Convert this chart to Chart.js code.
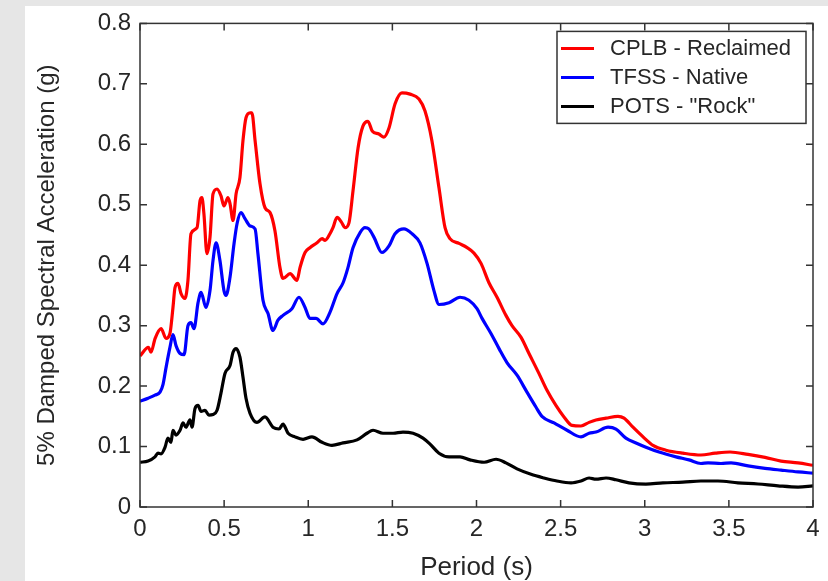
<!DOCTYPE html>
<html>
<head>
<meta charset="utf-8">
<script src="https://cdn.jsdelivr.net/npm/chart.js@4.4.1/dist/chart.umd.min.js"></script>
<style>
    html, body { margin: 0; padding: 0; background: #e6e6e6; overflow: hidden; }
    #panel { position: absolute; left: 25px; top: 6px; width: 803px; height: 575px; background: #fff; }
    #wrap { position: absolute; left: 0; top: 0; width: 828px; height: 581px; }
</style>
</head>
<body>
<div id="panel"></div>
<div id="wrap"><canvas id="spectraChart" width="828" height="581"></canvas></div>
<script>
// Periodo (s) y aceleración espectral (g) por estación
const periodCPLB = [0.0, 0.05, 0.065, 0.09, 0.125, 0.155, 0.178, 0.196, 0.208, 0.226, 0.244, 0.267, 0.285, 0.303, 0.339, 0.357, 0.368, 0.38, 0.398, 0.416, 0.434, 0.458, 0.481, 0.499, 0.523, 0.535, 0.553, 0.571, 0.594, 0.612, 0.63, 0.654, 0.665, 0.684, 0.713, 0.743, 0.773, 0.802, 0.832, 0.85, 0.892, 0.933, 0.951, 0.981, 1.01, 1.052, 1.082, 1.1, 1.129, 1.147, 1.171, 1.2, 1.218, 1.242, 1.266, 1.296, 1.325, 1.355, 1.38, 1.42, 1.45, 1.48, 1.516, 1.557, 1.605, 1.658, 1.694, 1.735, 1.777, 1.813, 1.842, 1.896, 1.944, 1.985, 2.027, 2.074, 2.122, 2.175, 2.211, 2.264, 2.312, 2.371, 2.419, 2.472, 2.52, 2.568, 2.621, 2.669, 2.71, 2.77, 2.841, 2.877, 2.93, 2.99, 3.049, 3.126, 3.227, 3.334, 3.418, 3.507, 3.614, 3.715, 3.81, 3.911, 4.0];
const saCPLB = [0.25, 0.264, 0.256, 0.279, 0.295, 0.279, 0.287, 0.33, 0.363, 0.37, 0.353, 0.345, 0.375, 0.452, 0.462, 0.507, 0.512, 0.485, 0.419, 0.446, 0.518, 0.526, 0.515, 0.498, 0.512, 0.502, 0.474, 0.518, 0.545, 0.606, 0.644, 0.652, 0.652, 0.606, 0.535, 0.495, 0.487, 0.457, 0.396, 0.378, 0.386, 0.375, 0.396, 0.421, 0.429, 0.437, 0.444, 0.441, 0.452, 0.462, 0.479, 0.47, 0.462, 0.47, 0.523, 0.594, 0.63, 0.638, 0.622, 0.617, 0.612, 0.627, 0.667, 0.685, 0.683, 0.675, 0.655, 0.606, 0.528, 0.462, 0.444, 0.436, 0.429, 0.42, 0.403, 0.371, 0.347, 0.317, 0.3, 0.281, 0.254, 0.221, 0.193, 0.168, 0.149, 0.135, 0.134, 0.14, 0.144, 0.147, 0.15, 0.147, 0.132, 0.116, 0.102, 0.094, 0.089, 0.086, 0.089, 0.091, 0.087, 0.082, 0.076, 0.073, 0.069];

const periodTFSS = [0.0, 0.048, 0.089, 0.119, 0.137, 0.155, 0.178, 0.196, 0.214, 0.238, 0.262, 0.285, 0.303, 0.321, 0.345, 0.363, 0.392, 0.416, 0.434, 0.452, 0.475, 0.499, 0.511, 0.535, 0.559, 0.577, 0.6, 0.624, 0.654, 0.684, 0.701, 0.731, 0.761, 0.79, 0.82, 0.85, 0.903, 0.945, 0.981, 1.01, 1.046, 1.088, 1.129, 1.171, 1.207, 1.236, 1.266, 1.308, 1.337, 1.36, 1.391, 1.438, 1.48, 1.516, 1.569, 1.617, 1.664, 1.706, 1.747, 1.777, 1.837, 1.902, 1.955, 2.003, 2.033, 2.086, 2.134, 2.181, 2.241, 2.3, 2.354, 2.389, 2.461, 2.538, 2.621, 2.669, 2.71, 2.782, 2.829, 2.888, 2.948, 3.007, 3.085, 3.186, 3.263, 3.334, 3.376, 3.453, 3.513, 3.614, 3.715, 3.81, 3.911, 4.0];
const saTFSS = [0.175, 0.18, 0.185, 0.19, 0.203, 0.231, 0.264, 0.285, 0.267, 0.254, 0.252, 0.3, 0.305, 0.295, 0.338, 0.355, 0.33, 0.358, 0.408, 0.437, 0.408, 0.358, 0.35, 0.38, 0.436, 0.469, 0.487, 0.477, 0.465, 0.46, 0.419, 0.342, 0.32, 0.292, 0.309, 0.317, 0.328, 0.347, 0.33, 0.312, 0.312, 0.303, 0.322, 0.353, 0.371, 0.396, 0.429, 0.454, 0.462, 0.46, 0.446, 0.421, 0.432, 0.452, 0.46, 0.452, 0.437, 0.403, 0.358, 0.335, 0.338, 0.347, 0.342, 0.328, 0.312, 0.287, 0.262, 0.239, 0.218, 0.19, 0.165, 0.15, 0.139, 0.127, 0.116, 0.122, 0.124, 0.132, 0.129, 0.114, 0.106, 0.099, 0.091, 0.083, 0.078, 0.072, 0.073, 0.072, 0.073, 0.068, 0.064, 0.061, 0.058, 0.056];

const periodPOTS = [0.0, 0.048, 0.089, 0.107, 0.125, 0.149, 0.166, 0.184, 0.196, 0.214, 0.238, 0.256, 0.273, 0.297, 0.309, 0.327, 0.345, 0.363, 0.386, 0.41, 0.434, 0.458, 0.481, 0.505, 0.535, 0.553, 0.571, 0.594, 0.612, 0.63, 0.654, 0.695, 0.743, 0.79, 0.826, 0.85, 0.88, 0.921, 0.969, 1.022, 1.082, 1.141, 1.207, 1.29, 1.349, 1.385, 1.444, 1.504, 1.563, 1.623, 1.682, 1.724, 1.777, 1.837, 1.902, 1.961, 2.045, 2.116, 2.175, 2.241, 2.324, 2.401, 2.478, 2.562, 2.621, 2.669, 2.71, 2.77, 2.829, 2.906, 3.007, 3.108, 3.227, 3.334, 3.435, 3.554, 3.673, 3.792, 3.911, 4.0];
const saPOTS = [0.074, 0.076, 0.083, 0.089, 0.088, 0.099, 0.114, 0.107, 0.127, 0.119, 0.127, 0.139, 0.132, 0.144, 0.132, 0.163, 0.168, 0.158, 0.16, 0.152, 0.153, 0.16, 0.188, 0.221, 0.234, 0.256, 0.262, 0.248, 0.215, 0.18, 0.155, 0.14, 0.149, 0.132, 0.129, 0.137, 0.122, 0.116, 0.112, 0.116, 0.107, 0.102, 0.106, 0.111, 0.122, 0.127, 0.122, 0.122, 0.124, 0.122, 0.114, 0.104, 0.089, 0.083, 0.083, 0.078, 0.074, 0.079, 0.073, 0.063, 0.054, 0.048, 0.043, 0.04, 0.043, 0.048, 0.046, 0.048, 0.045, 0.04, 0.038, 0.04, 0.041, 0.043, 0.043, 0.04, 0.038, 0.035, 0.033, 0.035];

const seriesLabels = ['CPLB - Reclaimed', 'TFSS - Native', 'POTS - "Rock"'];
const seriesColors = ['#ff0000', '#0000ff', '#000000'];

const xTicks = [0, 0.5, 1, 1.5, 2, 2.5, 3, 3.5, 4];
const yTicks = [0, 0.1, 0.2, 0.3, 0.4, 0.5, 0.6, 0.7, 0.8];

const axisColor = '#333333';
const textColor = '#262626';
const fontFamily = '"Liberation Sans", Arial, sans-serif';

function toPoints(periods, values) {
    return periods.map((p, i) => ({ x: p, y: values[i] }));
}

// Marco completo con marcas hacia dentro (estilo MATLAB)
const frameTicks = {
    id: 'frameTicks',
    afterDatasetsDraw(chart) {
        const { ctx, chartArea: a, scales: { x, y } } = chart;
        const len = 7;
        ctx.save();
        ctx.strokeStyle = axisColor;
        ctx.lineWidth = 1.5;
        ctx.strokeRect(a.left, a.top, a.right - a.left, a.bottom - a.top);
        ctx.beginPath();
        xTicks.forEach(v => {
            const px = x.getPixelForValue(v);
            ctx.moveTo(px, a.bottom); ctx.lineTo(px, a.bottom - len);
            ctx.moveTo(px, a.top); ctx.lineTo(px, a.top + len);
        });
        yTicks.forEach(v => {
            const py = y.getPixelForValue(v);
            ctx.moveTo(a.left, py); ctx.lineTo(a.left + len, py);
            ctx.moveTo(a.right, py); ctx.lineTo(a.right - len, py);
        });
        ctx.stroke();
        ctx.restore();
    }
};

// Leyenda dentro del área, esquina superior derecha, con recuadro
const boxLegend = {
    id: 'boxLegend',
    afterDraw(chart) {
        const { ctx, chartArea: a } = chart;
        const w = 249, h = 92;
        const left = a.right - 7 - w, top = a.top + 8;
        ctx.save();
        ctx.fillStyle = '#ffffff';
        ctx.fillRect(left, top, w, h);
        ctx.strokeStyle = axisColor;
        ctx.lineWidth = 1.5;
        ctx.strokeRect(left, top, w, h);
        ctx.font = '22px ' + fontFamily;
        ctx.textBaseline = 'middle';
        ctx.fillStyle = textColor;
        chart.data.datasets.forEach((ds, i) => {
            const yy = top + 17 + i * 29;
            ctx.strokeStyle = ds.borderColor;
            ctx.lineWidth = 3;
            ctx.beginPath();
            ctx.moveTo(left + 4, yy);
            ctx.lineTo(left + 37, yy);
            ctx.stroke();
            ctx.fillText(ds.label, left + 53, yy + 1);
        });
        ctx.restore();
    }
};

const ctx = document.getElementById('spectraChart');
new Chart(ctx, {
    type: 'line',
    data: {
        datasets: [
            { label: seriesLabels[0], data: toPoints(periodCPLB, saCPLB), borderColor: seriesColors[0] },
            { label: seriesLabels[1], data: toPoints(periodTFSS, saTFSS), borderColor: seriesColors[1] },
            { label: seriesLabels[2], data: toPoints(periodPOTS, saPOTS), borderColor: seriesColors[2] }
        ].map(ds => Object.assign(ds, {
            borderWidth: 3.2,
            pointRadius: 0,
            fill: false,
            cubicInterpolationMode: 'monotone'
        }))
    },
    options: {
        responsive: false,
        animation: false,
        layout: { padding: { top: 22, right: 15, left: 0, bottom: 0 } },
        plugins: {
            legend: { display: false },
            tooltip: { enabled: false }
        },
        scales: {
            x: {
                type: 'linear',
                min: 0,
                max: 4,
                afterBuildTicks: s => { s.ticks = xTicks.map(v => ({ value: v })); },
                afterFit: s => { s.height = 74; },
                grid: { display: false, drawTicks: false },
                border: { display: false },
                ticks: {
                    padding: 8,
                    color: textColor,
                    font: { family: fontFamily, size: 24 },
                    maxRotation: 0,
                    callback: v => String(v)
                },
                title: {
                    display: true,
                    text: 'Period (s)',
                    color: textColor,
                    font: { family: fontFamily, size: 26 },
                    padding: { top: 0, bottom: -2 }
                }
            },
            y: {
                min: 0,
                max: 0.8,
                afterBuildTicks: s => { s.ticks = yTicks.map(v => ({ value: v })); },
                afterFit: s => { s.width = 140; },
                grid: { display: false, drawTicks: false },
                border: { display: false },
                ticks: {
                    padding: 9,
                    color: textColor,
                    font: { family: fontFamily, size: 24 },
                    callback: v => String(v)
                },
                title: {
                    display: true,
                    text: '5% Damped Spectral Acceleration (g)',
                    color: textColor,
                    font: { family: fontFamily, size: 24 },
                    padding: { top: 33, bottom: 0 }
                }
            }
        }
    },
    plugins: [frameTicks, boxLegend]
});
</script>
</body>
</html>
